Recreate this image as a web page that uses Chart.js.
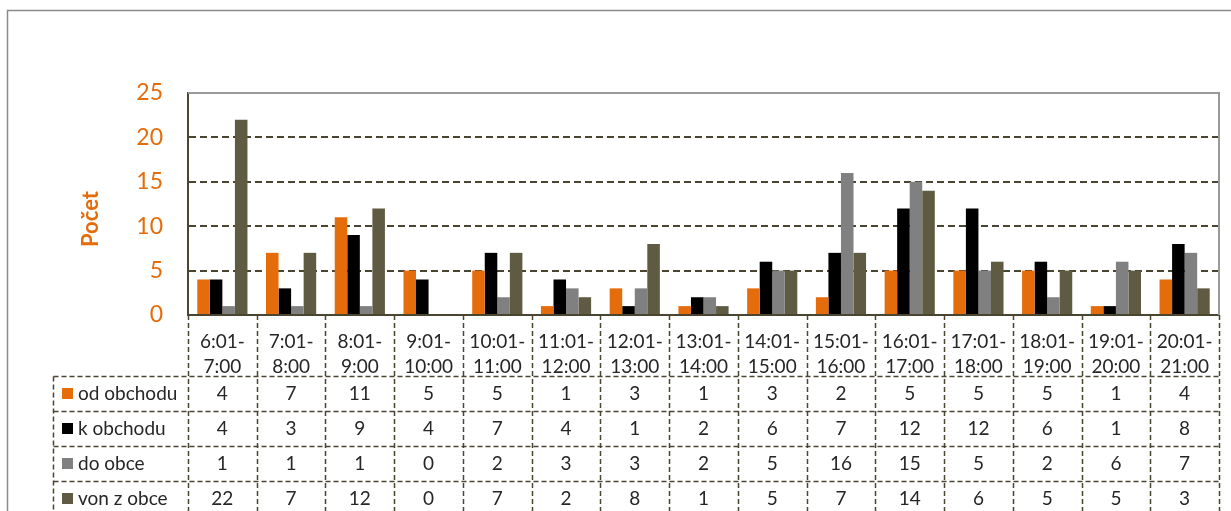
<!DOCTYPE html>
<html><head><meta charset="utf-8">
<script src="https://cdn.jsdelivr.net/npm/chart.js@4"></script>
<style>html,body{margin:0;padding:0;background:#fff;} #wrap{width:1231px;height:511px;position:relative;overflow:hidden}</style>
</head><body><div id="wrap"><canvas id="c" width="1231" height="511"></canvas></div>
<script>
const categories = [["6:01-","7:00"],["7:01-","8:00"],["8:01-","9:00"],["9:01-","10:00"],["10:01-","11:00"],["11:01-","12:00"],["12:01-","13:00"],["13:01-","14:00"],["14:01-","15:00"],["15:01-","16:00"],["16:01-","17:00"],["17:01-","18:00"],["18:01-","19:00"],["19:01-","20:00"],["20:01-","21:00"]];
const seriesNames = ["od obchodu","k obchodu","do obce","von z obce"];
const odObchodu = [4,7,11,5,5,1,3,1,3,2,5,5,5,1,4];
const kObchodu  = [4,3,9,4,7,4,1,2,6,7,12,12,6,1,8];
const doObce    = [1,1,1,0,2,3,3,2,5,16,15,5,2,6,7];
const vonZObce  = [22,7,12,0,7,2,8,1,5,7,14,6,5,5,3];
const yTickValues = [0,5,10,15,20,25];
const yTitle = "Počet";

const seriesValues = [odObchodu,kObchodu,doObce,vonZObce];
const colors = ["#E46C0A","#000000","#808080","#5F5A42"];
const lineCol = "#4a4530";
const textCol = "#262626";
const FONT = "Lato";

const tablePlugin = {
  id:'tbl',
  beforeDraw(chart){
    const ctx = chart.ctx;
    ctx.save();
    ctx.strokeStyle = "#8a8a8a"; ctx.lineWidth = 1.5;
    ctx.strokeRect(7.5,10.5,1240,600);
    ctx.restore();
  },
  afterDraw(chart){
    const ctx = chart.ctx, x = chart.scales.x, a = chart.chartArea;
    const n = categories.length;
    const w = x.getPixelForValue(1) - x.getPixelForValue(0);
    ctx.save();
    // plot border top/right
    ctx.strokeStyle = "#9a9a9a"; ctx.lineWidth = 2;
    ctx.beginPath(); ctx.moveTo(a.left, a.top); ctx.lineTo(a.right, a.top); ctx.lineTo(a.right, a.bottom); ctx.stroke();
    // table grid
    ctx.strokeStyle = lineCol; ctx.lineWidth = 1.5; ctx.setLineDash([5,3]);
    const rowTop = 376.5, rowH = 35, tLeft = 53.5;
    for (let i=0;i<=n;i++){
      const bx = Math.round(x.getPixelForValue(0) - w/2 + i*w) + 0.5;
      ctx.beginPath(); ctx.moveTo(bx, a.bottom); ctx.lineTo(bx, 520); ctx.stroke();
    }
    for (let r=0;r<4;r++){
      const yy = rowTop + r*rowH;
      ctx.beginPath(); ctx.moveTo(tLeft, yy); ctx.lineTo(a.right, yy); ctx.stroke();
    }
    ctx.beginPath(); ctx.moveTo(tLeft, rowTop); ctx.lineTo(tLeft, 520); ctx.stroke();
    ctx.setLineDash([]);
    // legend keys + values
    ctx.font = "19px " + FONT; ctx.textBaseline = "middle";
    for (let r=0;r<4;r++){
      const cy = rowTop + r*rowH + rowH/2;
      ctx.fillStyle = colors[r];
      ctx.fillRect(62, cy-6, 11, 11);
      ctx.fillStyle = textCol; ctx.textAlign = "left";
      ctx.fillText(seriesNames[r], 78, cy);
      ctx.textAlign = "center";
      for (let i=0;i<n;i++){
        ctx.fillText(String(seriesValues[r][i]), x.getPixelForValue(i), cy);
      }
    }
    // y title
    ctx.save();
    ctx.translate(91, 219); ctx.rotate(-Math.PI/2);
    ctx.font = "bold 22px " + FONT; ctx.fillStyle = "#E46C0A"; ctx.textAlign="center"; ctx.textBaseline="middle";
    ctx.fillText(yTitle, 0, 0);
    ctx.restore();
    ctx.restore();
  }
};

new Chart(document.getElementById('c'), {
  type:'bar',
  data:{
    labels: categories,
    datasets: seriesNames.map((nm,i)=>({label:nm, data:seriesValues[i], backgroundColor:colors[i], borderWidth:0, categoryPercentage:0.73, barPercentage:1.0}))
  },
  options:{
    responsive:false, animation:false, devicePixelRatio:1,
    layout:{padding:{top:93,right:12,left:0,bottom:0}},
    plugins:{legend:{display:false}, tooltip:{enabled:false}},
    scales:{
      x:{
        grid:{display:false},
        border:{display:true,color:lineCol,width:2},
        ticks:{font:{family:FONT,size:19,lineHeight:1.3},color:textCol,padding:7,maxRotation:0,autoSkip:false},
        afterFit:(s)=>{s.width=s.width; s.height=196;}
      },
      y:{
        min:0,max:25,
        afterBuildTicks:(s)=>{s.ticks = yTickValues.map(v=>({value:v}));},
        ticks:{font:{family:FONT,size:23},color:"#E46C0A",padding:25},
        grid:{color:(c)=> c.tick && c.tick.value===25 ? "#9a9a9a" : (c.tick && c.tick.value===0 ? "rgba(0,0,0,0)" : lineCol), lineWidth:2, drawTicks:false},
        border:{display:true,color:lineCol,width:2,dash:[7,4]},
        afterFit:(s)=>{s.width=188;}
      }
    }
  },
  plugins:[tablePlugin]
});
</script></body></html>
